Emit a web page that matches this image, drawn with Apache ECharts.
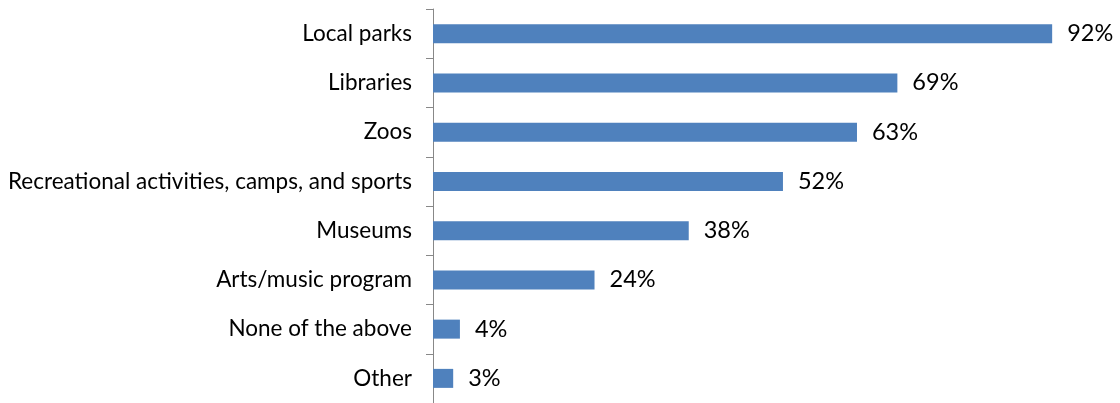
<!DOCTYPE html>
<html>
<head>
<meta charset="utf-8">
<script src="https://cdn.jsdelivr.net/npm/echarts@6/dist/echarts.min.js"></script>
<style>
html, body { margin: 0; padding: 0; background: #fff; }
#chart { width: 1120px; height: 403px; }
</style>
</head>
<body>
<div id="chart"></div>
<script>
// Survey categories, top to bottom
const categories = [
  'Local parks',
  'Libraries',
  'Zoos',
  'Recreational activities, camps, and sports',
  'Museums',
  'Arts/music program',
  'None of the above',
  'Other'
];
// Share of respondents (%)
const values = [92, 69, 63, 52, 38, 24, 4, 3];

const chart = echarts.init(document.getElementById('chart'));
chart.setOption({
  animation: false,
  grid: { left: 433, right: 14, top: 9, bottom: -1, containLabel: false },
  xAxis: {
    type: 'value',
    min: 0,
    max: 100,
    show: false
  },
  yAxis: {
    type: 'category',
    data: categories.slice().reverse(),
    axisLine: { show: true, lineStyle: { color: '#888888', width: 1 } },
    axisTick: { show: true, length: 7, inside: false, alignWithLabel: false, lineStyle: { color: '#888888' } },
    axisLabel: { color: '#000', fontFamily: 'Lato', fontSize: 22.5, margin: 21 },
    splitLine: { show: false }
  },
  series: [{
    type: 'bar',
    data: values.slice().reverse(),
    barWidth: 19,
    itemStyle: { color: '#4F81BD' },
    label: {
      show: true,
      position: 'right',
      distance: 15,
      formatter: '{c}%',
      color: '#000',
      fontFamily: 'Lato',
      fontSize: 23.5
    }
  }]
});
</script>
</body>
</html>
